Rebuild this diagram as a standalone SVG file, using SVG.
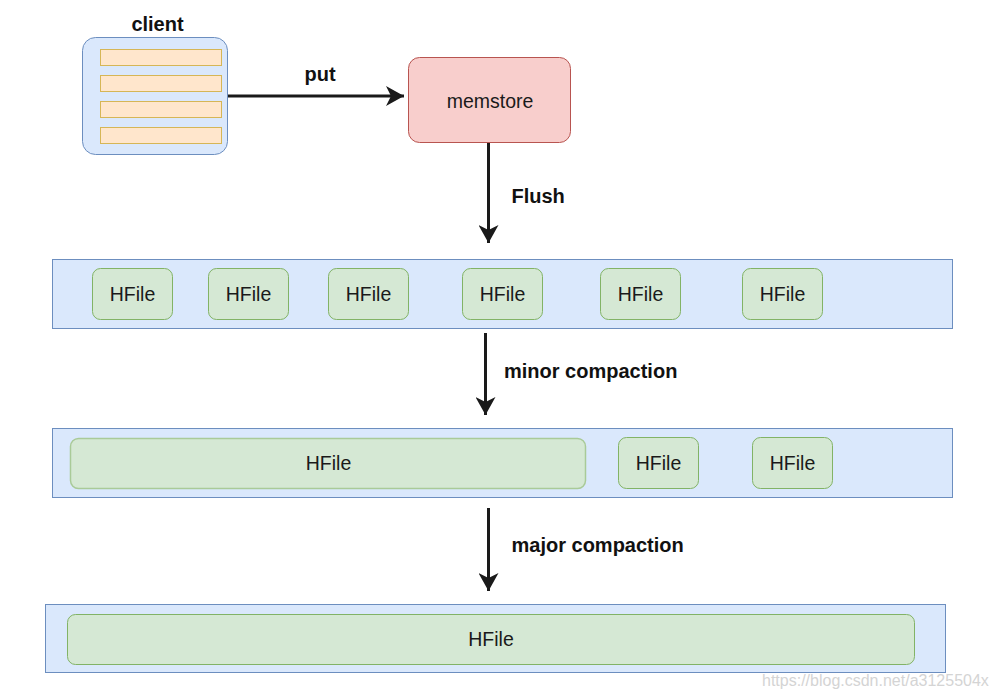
<svg xmlns="http://www.w3.org/2000/svg" width="995" height="699" viewBox="0 0 995 699">
<style>
.layer{fill:#dae8fc;stroke:#6c8ebf;stroke-width:1}
.hf{fill:#d5e8d4;stroke:#82b366;stroke-width:1}
.hf2{fill:#d5e8d4;stroke:#a9ca98;stroke-width:1.5}
.t{font-family:"Liberation Sans",Arial,sans-serif;font-size:19.5px;fill:#1a1a1a;text-anchor:middle}
.b{font-family:"Liberation Sans",Arial,sans-serif;font-size:20px;font-weight:bold;fill:#111}
.edge{stroke:#1a1a1a;stroke-width:3;fill:none}
.bar{fill:#ffe6cc;stroke:#d6b656;stroke-width:1}
</style>
<defs>
<marker id="arr" viewBox="0 0 20 20" refX="18" refY="10" markerUnits="userSpaceOnUse" markerWidth="20" markerHeight="20" orient="auto">
<path d="M0,0 L18,10 L0,20 L5,10 Z" fill="#1a1a1a"/>
</marker>
</defs>
<rect width="995" height="699" fill="#ffffff"/>

<g id="client">
<rect x="82.5" y="37.5" width="145" height="117" rx="13" fill="#dae8fc" stroke="#6c8ebf"/>
<rect class="bar" x="100.5" y="49.5" width="121" height="16"/>
<rect class="bar" x="100.5" y="75.5" width="121" height="16"/>
<rect class="bar" x="100.5" y="101.5" width="121" height="16"/>
<rect class="bar" x="100.5" y="127.5" width="121" height="16"/>
<text class="b" x="157.5" y="30.5" text-anchor="middle">client</text>
</g>

<g id="memstore">
<rect x="408.5" y="57.5" width="162" height="85" rx="11" fill="#f8cecc" stroke="#b85450"/>
<text class="t" x="490" y="107.5">memstore</text>
</g>

<g id="layer1">
<rect class="layer" x="52.5" y="259.5" width="900" height="69"/>
<rect class="hf" x="92.5" y="268.5" width="80" height="51" rx="8"/>
<text class="t" x="132.5" y="301">HFile</text>
<rect class="hf" x="208.5" y="268.5" width="80" height="51" rx="8"/>
<text class="t" x="248.5" y="301">HFile</text>
<rect class="hf" x="328.5" y="268.5" width="80" height="51" rx="8"/>
<text class="t" x="368.5" y="301">HFile</text>
<rect class="hf" x="462.5" y="268.5" width="80" height="51" rx="8"/>
<text class="t" x="502.5" y="301">HFile</text>
<rect class="hf" x="600.5" y="268.5" width="80" height="51" rx="8"/>
<text class="t" x="640.5" y="301">HFile</text>
<rect class="hf" x="742.5" y="268.5" width="80" height="51" rx="8"/>
<text class="t" x="782.5" y="301">HFile</text>
</g>

<g id="layer2">
<rect class="layer" x="52.5" y="428.5" width="900" height="69"/>
<rect class="hf2" x="70.5" y="438.5" width="515" height="50" rx="8"/>
<text class="t" x="328.5" y="470">HFile</text>
<rect class="hf" x="618.5" y="437.5" width="80" height="51" rx="8"/>
<text class="t" x="658.5" y="469.5">HFile</text>
<rect class="hf" x="752.5" y="437.5" width="80" height="51" rx="8"/>
<text class="t" x="792.5" y="469.5">HFile</text>
</g>

<g id="layer3">
<rect class="layer" x="45.5" y="604.5" width="900" height="68"/>
<rect class="hf" x="67.5" y="614.5" width="847" height="50" rx="8"/>
<text class="t" x="491" y="646">HFile</text>
</g>

<g id="connectors">
<line class="edge" x1="228" y1="96" x2="404" y2="96" marker-end="url(#arr)"/>
<text class="b" x="320" y="80.5" text-anchor="middle">put</text>
<line class="edge" x1="488.5" y1="143" x2="488.5" y2="243" marker-end="url(#arr)"/>
<text class="b" x="511.5" y="202.5">Flush</text>
<line class="edge" x1="485.5" y1="333" x2="485.5" y2="415" marker-end="url(#arr)"/>
<text class="b" x="504" y="378">minor compaction</text>
<line class="edge" x1="488.5" y1="508" x2="488.5" y2="591" marker-end="url(#arr)"/>
<text class="b" x="511.5" y="551.5">major compaction</text>
</g>

<text x="762" y="686" font-family="'Liberation Sans',Arial,sans-serif" font-size="16" fill="#d4d4d4">https://blog.csdn.net/a3125504x</text>
</svg>
